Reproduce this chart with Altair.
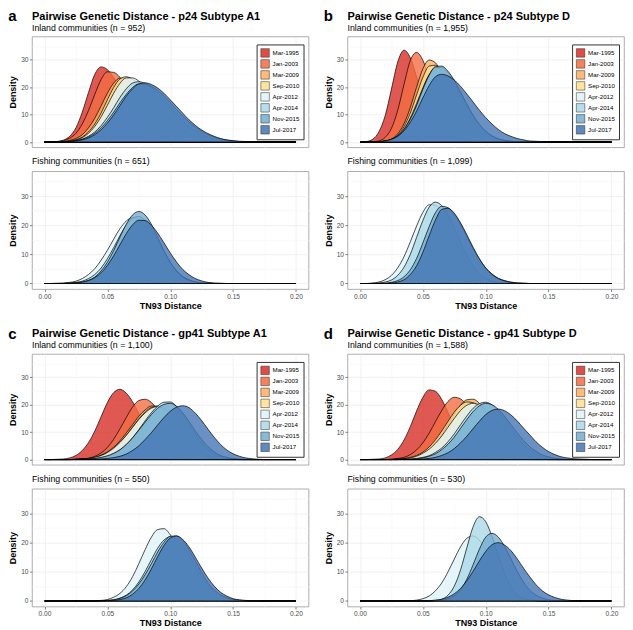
import altair as alt
import pandas as pd

FONT = "Liberation Sans"

DIST = [0.000, 0.005, 0.010, 0.015, 0.020, 0.025, 0.030, 0.035, 0.040, 0.045,
        0.050, 0.055, 0.060, 0.065, 0.070, 0.075, 0.080, 0.085, 0.090, 0.095,
        0.100, 0.105, 0.110, 0.115, 0.120, 0.125, 0.130, 0.135, 0.140, 0.145,
        0.150, 0.155, 0.160, 0.165, 0.170, 0.175, 0.180, 0.185, 0.190, 0.195, 0.200]

SERIES = ["Mar-1995", "Jan-2003", "Mar-2009", "Sep-2010",
          "Apr-2012", "Apr-2014", "Nov-2015", "Jul-2017"]
COLORS = ["#D73027", "#F46D43", "#FDAE61", "#FEE090",
          "#E0F3F8", "#ABD9E9", "#74ADD1", "#4575B4"]

X_TICKS = [0.0, 0.025, 0.05, 0.075, 0.1, 0.125, 0.15, 0.175, 0.2]
Y_TICKS = [0, 5, 10, 15, 20, 25, 30, 35]

# ---------------- p24 subtype A1 ----------------
A_INLAND = {
    "Mar-1995": [0,0,0.2,0.7,2.1,5.2,10.9,18.1,24.7,27.4,26.4,23.5,19.4,14.8,10.4,6.8,4.2,2.3,1.2,0.6,0.3,0.1,
                 0,0,0,0,0,0,0,0,0,0,0,0,0,0,0,0,0,0,0],
    "Jan-2003": [0,0,0.2,0.5,1.4,3.2,6.6,11.5,17.4,22.8,25.6,25.4,23.6,20.5,16.8,13.0,9.3,6.3,4.0,2.4,1.4,0.7,0.4,0.2,0.1,
                 0,0,0,0,0,0,0,0,0,0,0,0,0,0,0,0],
    "Mar-2009": [0,0,0.1,0.2,0.6,1.3,2.7,5.2,8.7,13.2,17.8,21.5,23.3,22.9,21.4,19.0,16.1,12.9,9.8,7.1,4.8,3.1,1.9,1.2,0.6,0.3,0.2,0.1,
                 0,0,0,0,0,0,0,0,0,0,0,0,0],
    "Sep-2010": [0,0,0,0.1,0.3,0.8,1.8,3.7,6.6,10.6,15.4,19.9,23.0,23.8,22.9,21.0,18.3,15.1,11.9,8.8,6.2,4.2,2.7,1.6,0.9,0.5,0.3,0.1,
                 0,0,0,0,0,0,0,0,0,0,0,0,0],
    "Apr-2012": [0,0,0,0.1,0.3,0.8,1.6,3.2,5.7,9.2,13.4,17.8,21.4,23.4,23.4,22.2,20.1,17.4,14.3,11.2,8.5,6.0,4.1,2.6,1.7,1.0,0.6,0.3,0.2,0.1,
                 0,0,0,0,0,0,0,0,0,0,0],
    "Apr-2014": [0,0,0,0.1,0.2,0.6,1.1,2.1,3.7,6.0,9.0,12.5,16.3,19.4,21.5,22.0,21.4,20.0,17.9,15.5,12.8,10.2,7.8,5.7,4.0,2.7,1.8,1.1,0.7,0.4,0.2,0.1,
                 0,0,0,0,0,0,0,0,0],
    "Nov-2015": [0,0,0,0.1,0.2,0.5,1.0,1.9,3.2,5.2,7.8,10.9,14.3,17.4,19.9,21.2,21.2,20.3,18.8,16.8,14.4,11.9,9.5,7.3,5.5,3.9,2.7,1.8,1.1,0.7,0.4,0.2,0.1,
                 0,0,0,0,0,0,0,0],
    "Jul-2017": [0,0,0,0.1,0.2,0.4,0.8,1.5,2.7,4.5,6.9,9.9,13.3,16.7,19.4,21.2,21.6,21.0,19.7,17.8,15.4,13.0,10.5,8.1,6.1,4.4,3.1,2.1,1.3,0.8,0.5,0.3,0.2,0.1,
                 0,0,0,0,0,0,0],
}
A_FISHING = {
    "Apr-2012": [0,0,0.1,0.2,0.4,0.8,1.7,3.1,5.1,8.0,11.4,15.2,18.8,21.4,22.6,21.9,19.3,15.4,11.1,7.3,4.4,2.4,1.2,0.5,0.2,0.1,
                 0,0,0,0,0,0,0,0,0,0,0,0,0,0,0],
    "Apr-2014": [0,0,0,0,0.1,0.4,0.8,1.7,3.1,5.3,8.5,12.3,16.4,20.0,22.4,23.0,21.6,18.7,14.8,10.7,7.2,4.4,2.4,1.3,0.6,0.3,0.1,
                 0,0,0,0,0,0,0,0,0,0,0,0,0,0],
    "Nov-2015": [0,0,0,0,0.1,0.2,0.5,1.1,2.2,4.3,7.3,11.3,15.9,20.3,23.5,24.7,23.5,20.3,15.9,11.3,7.3,4.3,2.2,1.1,0.5,0.2,0.1,
                 0,0,0,0,0,0,0,0,0,0,0,0,0,0],
    "Jul-2017": [0,0,0,0,0.1,0.2,0.5,1.0,2.0,3.7,6.2,9.5,13.3,17.1,20.1,21.7,21.6,20.0,17.3,14.0,10.5,7.4,4.8,3.0,1.7,0.9,0.4,0.2,0.1,
                 0,0,0,0,0,0,0,0,0,0,0,0],
}

# ---------------- p24 subtype D ----------------
B_INLAND = {
    "Mar-1995": [0,0.2,1.0,3.7,9.6,19.3,29.2,33.5,30.7,23.7,15.3,8.3,3.9,1.5,0.5,0.1,
                 0,0,0,0,0,0,0,0,0,0,0,0,0,0,0,0,0,0,0,0,0,0,0,0,0],
    "Jan-2003": [0,0,0.1,0.4,1.7,5.0,11.6,21.0,29.7,32.7,29.8,23.4,15.9,9.3,4.7,2.1,0.8,0.2,0.1,
                 0,0,0,0,0,0,0,0,0,0,0,0,0,0,0,0,0,0,0,0,0,0],
    "Mar-2009": [0,0,0,0.1,0.4,1.1,3.0,6.7,12.6,20.0,26.7,29.9,28.9,24.9,19.2,13.2,8.2,4.5,2.2,1.0,0.4,0.1,
                 0,0,0,0,0,0,0,0,0,0,0,0,0,0,0,0,0,0,0],
    "Sep-2010": [0,0,0,0.1,0.3,1.0,2.5,5.6,10.6,17.2,23.6,27.7,28.0,25.4,20.9,15.6,10.5,6.5,3.6,1.8,0.8,0.3,0.1,
                 0,0,0,0,0,0,0,0,0,0,0,0,0,0,0,0,0,0],
    "Apr-2012": [0,0,0,0.1,0.4,1.0,2.3,4.8,8.8,14.1,19.8,24.6,26.9,26.4,23.8,20.0,15.4,11.1,7.4,4.5,2.6,1.4,0.7,0.3,0.1,
                 0,0,0,0,0,0,0,0,0,0,0,0,0,0,0,0],
    "Apr-2014": [0,0,0,0.1,0.3,0.9,2.0,4.3,8.0,13.2,19.1,24.3,27.2,27.2,25.2,21.8,17.6,13.2,9.3,6.1,3.7,2.1,1.1,0.6,0.3,0.1,
                 0,0,0,0,0,0,0,0,0,0,0,0,0,0,0],
    "Nov-2015": [0,0,0,0.1,0.4,1.0,2.3,4.6,8.4,13.4,19.3,24.4,27.5,27.7,25.8,22.5,18.2,13.9,9.8,6.5,4.0,2.3,1.2,0.6,0.3,0.1,
                 0,0,0,0,0,0,0,0,0,0,0,0,0,0,0],
    "Jul-2017": [0,0,0,0.2,0.4,1.0,2.1,4.1,7.2,11.3,16.1,20.6,23.8,24.7,24.1,22.6,20.3,17.5,14.6,11.6,8.9,6.6,4.6,3.1,2.1,1.3,0.8,0.4,0.3,0.1,
                 0,0,0,0,0,0,0,0,0,0,0],
}
B_FISHING = {
    "Apr-2012": [0,0,0.2,0.5,1.3,2.8,5.4,9.2,14.3,19.7,24.4,27.0,26.8,24.3,20.3,15.5,10.9,7.0,4.1,2.2,1.1,0.5,0.2,0.1,
                 0,0,0,0,0,0,0,0,0,0,0,0,0,0,0,0,0],
    "Apr-2014": [0,0,0,0.2,0.5,1.2,2.8,5.6,10.0,15.8,21.6,26.2,27.9,26.7,23.5,18.9,13.9,9.5,5.9,3.3,1.8,0.8,0.4,0.1,
                 0,0,0,0,0,0,0,0,0,0,0,0,0,0,0,0,0],
    "Nov-2015": [0,0,0,0,0.1,0.4,1.0,2.3,4.7,8.6,13.9,19.5,24.3,26.5,26.0,23.8,20.3,16.1,12.0,8.3,5.3,3.3,1.8,1.0,0.5,0.2,0.1,
                 0,0,0,0,0,0,0,0,0,0,0,0,0,0],
    "Jul-2017": [0,0,0,0,0,0.2,0.5,1.3,3.1,6.1,10.7,16.4,21.8,25.4,25.8,24.1,20.8,16.7,12.4,8.5,5.3,3.1,1.7,0.9,0.4,0.2,0.1,
                 0,0,0,0,0,0,0,0,0,0,0,0,0,0],
}

# ---------------- gp41 subtype A1 ----------------
C_INLAND = {
    "Mar-1995": [0,0,0.1,0.2,0.6,1.5,3.3,6.2,10.4,15.6,20.8,24.4,25.6,24.2,21.1,16.8,12.3,8.2,5.1,2.9,1.5,0.7,0.3,0.1,
                 0,0,0,0,0,0,0,0,0,0,0,0,0,0,0,0,0],
    "Jan-2003": [0,0,0,0,0,0.1,0.2,0.5,1.2,2.4,4.4,7.4,11.2,15.3,19.1,21.5,22.0,20.8,18.1,14.7,11.0,7.6,4.9,2.9,1.6,0.8,0.4,0.2,0.1,
                 0,0,0,0,0,0,0,0,0,0,0,0],
    "Mar-2009": [0,0,0,0,0,0.1,0.2,0.4,0.8,1.6,2.8,4.5,6.8,9.7,12.7,15.8,18.1,19.5,19.5,18.1,15.6,12.4,9.1,6.2,4.0,2.3,1.2,0.6,0.3,0.1,
                 0,0,0,0,0,0,0,0,0,0,0],
    "Sep-2010": [0,0,0,0,0,0.1,0.2,0.3,0.7,1.3,2.4,3.9,6.0,8.8,11.8,14.8,17.3,19.0,19.4,18.4,16.1,13.1,9.8,6.9,4.4,2.6,1.4,0.7,0.4,0.2,0.1,
                 0,0,0,0,0,0,0,0,0,0],
    "Apr-2012": [0,0,0,0,0,0.1,0.2,0.4,0.8,1.5,2.6,4.2,6.3,8.8,11.7,14.6,17.0,18.7,19.3,18.6,16.5,13.6,10.4,7.3,4.8,2.9,1.6,0.8,0.4,0.2,0.1,
                 0,0,0,0,0,0,0,0,0,0],
    "Apr-2014": [0,0,0,0,0,0,0.1,0.2,0.3,0.6,1.2,2.1,3.5,5.4,7.9,10.9,14.1,17.1,19.5,20.9,21.0,19.4,16.5,12.8,9.2,5.9,3.6,2.0,1.0,0.5,0.2,0.1,
                 0,0,0,0,0,0,0,0,0],
    "Nov-2015": [0,0,0,0,0,0,0.1,0.2,0.4,0.8,1.4,2.3,3.6,5.5,7.9,10.7,13.6,16.4,18.7,20.1,20.5,19.4,17.0,13.8,10.4,7.3,4.7,2.8,1.5,0.8,0.4,0.2,0.1,
                 0,0,0,0,0,0,0,0],
    "Jul-2017": [0,0,0,0,0,0,0,0,0.1,0.2,0.4,0.7,1.2,2.0,3.3,5.0,7.3,9.8,12.6,15.3,17.6,19.1,19.6,18.9,16.9,14.2,11.1,8.1,5.5,3.5,2.1,1.2,0.6,0.3,0.1,
                 0,0,0,0,0,0],
}
C_FISHING = {
    "Apr-2012": [0,0,0,0,0,0,0,0,0.1,0.2,0.5,1.3,2.6,4.9,8.3,12.8,17.6,21.9,24.5,24.8,22.7,18.9,14.2,9.7,6.0,3.4,1.7,0.8,0.3,0.1,
                 0,0,0,0,0,0,0,0,0,0,0],
    "Apr-2014": [0,0,0,0,0,0,0,0,0,0.1,0.2,0.4,1.0,2.0,3.8,6.5,10.1,14.2,18.1,20.9,22.0,21.2,18.9,15.6,11.9,8.4,5.5,3.3,1.9,1.0,0.5,0.2,0.1,
                 0,0,0,0,0,0,0,0],
    "Nov-2015": [0,0,0,0,0,0,0,0,0,0.1,0.2,0.4,0.9,1.8,3.4,5.8,9.0,12.8,16.8,20.1,22.2,22.3,20.7,17.5,13.7,9.8,6.3,3.8,2.1,1.1,0.5,0.2,0.1,
                 0,0,0,0,0,0,0,0],
    "Jul-2017": [0,0,0,0,0,0,0,0,0,0,0.1,0.2,0.5,1.1,2.3,4.3,7.2,11.0,15.2,19.0,21.6,22.3,21.1,18.5,15.0,11.3,7.9,5.1,3.0,1.7,0.8,0.4,0.2,0.1,
                 0,0,0,0,0,0,0],
}

# ---------------- gp41 subtype D ----------------
D_INLAND = {
    "Mar-1995": [0,0,0.1,0.2,0.6,1.7,3.7,7.1,12.0,17.7,22.7,25.4,24.9,21.9,17.2,12.0,7.6,4.3,2.1,1.0,0.4,0.1,
                 0,0,0,0,0,0,0,0,0,0,0,0,0,0,0,0,0,0,0],
    "Jan-2003": [0,0,0,0,0,0.1,0.4,0.8,1.8,3.5,6.1,9.6,13.8,17.9,21.2,22.7,22.1,19.7,16.2,12.1,8.4,5.3,3.1,1.6,0.8,0.4,0.1,
                 0,0,0,0,0,0,0,0,0,0,0,0,0,0],
    "Mar-2009": [0,0,0,0,0,0,0.1,0.2,0.4,0.9,1.8,3.4,5.7,8.9,12.6,16.5,19.8,21.8,22.0,20.5,17.7,14.2,10.5,7.2,4.5,2.7,1.5,0.7,0.3,0.1,
                 0,0,0,0,0,0,0,0,0,0,0],
    "Sep-2010": [0,0,0,0,0,0.1,0.2,0.4,0.8,1.5,2.7,4.6,7.2,10.4,13.9,17.3,19.8,21.0,20.7,18.8,15.8,12.4,8.9,6.0,3.7,2.1,1.1,0.5,0.3,0.1,
                 0,0,0,0,0,0,0,0,0,0,0],
    "Apr-2012": [0,0,0,0,0,0,0.1,0.3,0.6,1.2,2.3,3.8,5.9,8.6,11.8,15.0,17.9,19.8,20.5,19.8,17.9,15.0,11.8,8.6,5.9,3.8,2.3,1.2,0.6,0.3,0.1,
                 0,0,0,0,0,0,0,0,0,0],
    "Apr-2014": [0,0,0,0,0,0,0,0.1,0.2,0.4,0.8,1.4,2.6,4.2,6.5,9.4,12.7,15.9,18.7,20.4,20.9,19.9,17.7,14.7,11.4,8.2,5.5,3.5,2.0,1.1,0.6,0.3,0.1,
                 0,0,0,0,0,0,0,0],
    "Nov-2015": [0,0,0,0,0,0,0,0.1,0.1,0.3,0.6,1.2,2.1,3.6,5.6,8.2,11.4,14.6,17.5,19.6,20.5,20.0,18.3,15.8,12.8,9.8,7.0,4.7,3.0,1.7,1.0,0.5,0.2,0.1,
                 0,0,0,0,0,0,0],
    "Jul-2017": [0,0,0,0,0,0,0,0,0,0.1,0.2,0.4,0.8,1.5,2.5,4.0,6.1,8.5,11.3,14.0,16.4,17.9,18.4,17.8,16.3,14.1,11.5,9.0,6.5,4.5,2.9,1.8,1.0,0.6,0.3,0.2,0.1,
                 0,0,0,0],
}
D_FISHING = {
    "Apr-2012": [0,0,0,0,0,0,0,0,0.1,0.3,0.8,1.7,3.5,6.2,10.0,14.4,18.6,21.5,22.3,20.8,17.6,13.5,9.5,6.0,3.4,1.8,0.8,0.4,0.1,
                 0,0,0,0,0,0,0,0,0,0,0,0],
    "Apr-2014": [0,0,0,0,0,0,0,0,0,0,0,0,0.2,0.6,2.0,5.1,10.7,18.3,25.5,28.9,27.2,22.1,15.5,9.4,4.9,2.2,0.9,0.3,0.1,
                 0,0,0,0,0,0,0,0,0,0,0,0],
    "Nov-2015": [0,0,0,0,0,0,0,0,0,0,0,0,0.1,0.2,0.7,1.8,3.9,7.5,12.5,17.8,21.9,23.2,21.9,18.7,14.5,10.2,6.5,3.7,2.0,1.0,0.4,0.2,0.1,
                 0,0,0,0,0,0,0,0],
    "Jul-2017": [0,0,0,0,0,0,0,0,0,0,0,0.1,0.3,0.6,1.3,2.5,4.3,7.0,10.2,13.8,17.0,19.3,20.0,19.2,17.3,14.5,11.3,8.3,5.6,3.5,2.1,1.2,0.6,0.3,0.1,
                 0,0,0,0,0,0],
}

PANELS = [
    ("a", "Pairwise Genetic Distance - p24 Subtype A1",
     "Inland communities (n = 952)", "Fishing communities (n = 651)", A_INLAND, A_FISHING),
    ("b", "Pairwise Genetic Distance - p24 Subtype D",
     "Inland communities (n = 1,955)", "Fishing communities (n = 1,099)", B_INLAND, B_FISHING),
    ("c", "Pairwise Genetic Distance - gp41 Subtype A1",
     "Inland communities (n = 1,100)", "Fishing communities (n = 550)", C_INLAND, C_FISHING),
    ("d", "Pairwise Genetic Distance - gp41 Subtype D",
     "Inland communities (n = 1,588)", "Fishing communities (n = 530)", D_INLAND, D_FISHING),
]

W = 277
H_IN = 111
H_FI = 118
MAJOR = "#EBEBEB"
MINOR = "#F6F6F6"
X_MINOR_TEST = "round(datum.value * 40) % 2 == 1"
Y_MINOR_TEST = "datum.value % 10 != 0"


def to_frame(tag, d):
    rows = []
    for s in SERIES:
        if s not in d:
            continue
        vals = d[s]
        if len(vals) != len(DIST):
            raise ValueError(f"{tag} {s}: {len(vals)} values")
        for x, y in zip(DIST, vals):
            rows.append({"series": s, "dist": x, "density": y})
    return pd.DataFrame(rows)


def y_axis():
    return alt.Axis(
        values=Y_TICKS, title="Density", titleFontSize=9, titleFontWeight="bold",
        titleColor="black", titlePadding=3, labelFontSize=6.6, labelColor="#4D4D4D",
        labelPadding=1.5, labelFlush=False, labelOverlap=False,
        labelExpr="datum.value % 10 == 0 ? datum.label : ''",
        tickSize=2.5, tickWidth=0.6,
        tickColor={"condition": {"test": Y_MINOR_TEST, "value": "transparent"}, "value": "#333333"},
        gridColor={"condition": {"test": Y_MINOR_TEST, "value": MINOR}, "value": MAJOR},
        gridWidth=0.7, domain=False,
    )


def x_axis(show):
    if show:
        return alt.Axis(
            values=X_TICKS, title="TN93 Distance", titleFontSize=9, titleFontWeight="bold",
            titleColor="black", titlePadding=1.5, labelFontSize=6.6, labelColor="#4D4D4D",
            labelPadding=1.5, labelFlush=False, labelOverlap=False,
            labelExpr=f"{X_MINOR_TEST} ? '' : format(datum.value, '.2f')",
            tickSize=2.5, tickWidth=0.6,
            tickColor={"condition": {"test": X_MINOR_TEST, "value": "transparent"}, "value": "#333333"},
            gridColor={"condition": {"test": X_MINOR_TEST, "value": MINOR}, "value": MAJOR},
            gridWidth=0.7, domain=False,
        )
    return alt.Axis(
        values=X_TICKS, title=None, labels=False, ticks=False, domain=False,
        gridColor={"condition": {"test": X_MINOR_TEST, "value": MINOR}, "value": MAJOR},
        gridWidth=0.7,
    )


def areas(df, inland):
    legend = None
    if inland:
        legend = alt.Legend(
            orient="none", legendX=W - 52, legendY=8, title=None,
            symbolType="square", symbolSize=72, symbolStrokeColor="black",
            symbolStrokeWidth=0.5, symbolOpacity=0.85,
            labelFont=FONT, labelFontSize=6.2, labelColor="black", labelOffset=3,
            rowPadding=0, padding=4, strokeColor="#333333", fillColor="white",
        )
    return alt.Chart(df).mark_area(
        interpolate="monotone", fillOpacity=0.8, stroke="black", strokeWidth=0.7,
    ).encode(
        x=alt.X("dist:Q", scale=alt.Scale(domain=[-0.01, 0.21], nice=False, zero=False),
                axis=x_axis(not inland)),
        y=alt.Y("density:Q", stack=None,
                scale=alt.Scale(domain=[-1.9, 38.5], nice=False, zero=False),
                axis=y_axis()),
        color=alt.Color("series:N", scale=alt.Scale(domain=SERIES, range=COLORS),
                        legend=legend),
    )


def quadrant(letter, title, sub_in, sub_fi, d_in, d_fi):
    df_in = to_frame(letter + " inland", d_in)
    df_fi = to_frame(letter + " fishing", d_fi)
    inland = areas(df_in, True).properties(
        width=W, height=H_IN,
        title=alt.TitleParams(
            text=title, subtitle=sub_in, anchor="start", frame="group",
            font=FONT, fontSize=11, fontWeight="bold", color="black",
            subtitleFont=FONT, subtitleFontSize=8.8, subtitleColor="black",
            subtitlePadding=2, offset=4,
        ),
    )
    fishing = areas(df_fi, False).properties(
        width=W, height=H_FI,
        title=alt.TitleParams(
            text=sub_fi, anchor="start", frame="group", font=FONT, fontSize=8.8,
            fontWeight="normal", color="black", offset=5,
        ),
    )
    return alt.vconcat(
        inland, fishing, spacing=8,
        title=alt.TitleParams(
            text=letter, anchor="start", frame="bounds", font=FONT, fontSize=15,
            fontWeight="bold", color="black", offset=-14,
        ),
    ).resolve_scale(color="independent").resolve_legend(color="independent")


quads = [quadrant(*p) for p in PANELS]
row1 = alt.hconcat(quads[0], quads[1], spacing=14).resolve_scale(
    color="independent").resolve_legend(color="independent")
row2 = alt.hconcat(quads[2], quads[3], spacing=14).resolve_scale(
    color="independent").resolve_legend(color="independent")

chart = alt.vconcat(row1, row2, spacing=15).resolve_scale(
    color="independent").resolve_legend(color="independent").properties(
    padding=0, background="white",
).configure_view(stroke="#999999", strokeWidth=0.8).configure_axis(
    labelFont=FONT, titleFont=FONT,
)

chart.save("out.html", embed_options={"renderer": "svg", "actions": False})
